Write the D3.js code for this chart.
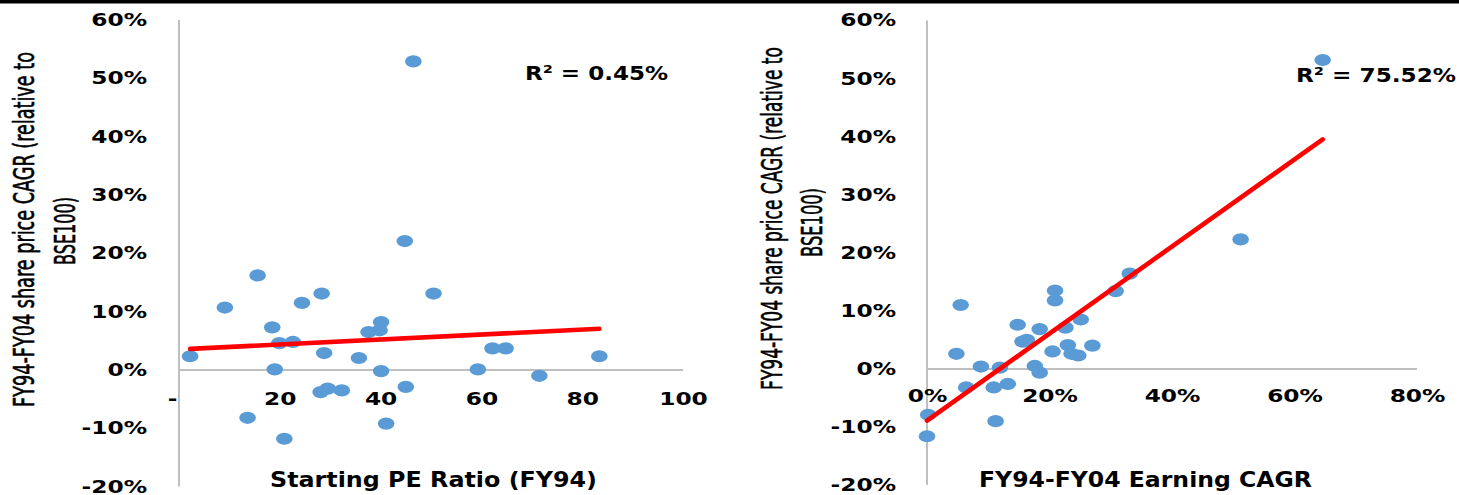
<!DOCTYPE html>
<html>
<head>
<meta charset="utf-8">
<script src="https://cdn.jsdelivr.net/npm/d3@7"></script>
<style>
  body { margin: 0; background: #fff; }
  svg { display: block; }
</style>
</head>
<body>
<div id="chart"></div>
<script>
// Left panel: starting PE vs relative share price CAGR (%)
var peRatio = [2.2, 9.1, 15.6, 18.5, 19.0, 19.9, 22.6, 24.4, 28.3, 28.8,
               28.1, 29.5, 32.3, 35.7, 37.6, 39.8, 40.1, 40.1, 41.1, 45.0,
               50.5, 13.6, 20.9, 44.8, 46.5, 59.3, 62.2, 64.8, 71.5, 83.4];
var peReturn = [2.35, 10.7, 16.2, 7.3, 0.1, 4.6, 4.8, 11.5, 13.1, 2.9,
                -3.8, -3.2, -3.5, 2.05, 6.5, 6.8, 8.2, -0.2, -9.2, -2.9,
                13.1, -8.2, -11.8, 22.1, 52.9, 0.1, 3.7, 3.7, -1.0, 2.35];

// Right panel: earnings CAGR (%) vs relative share price CAGR (%)
var earnCagr = [0, 0.2, 5.5, 4.8, 6.4, 8.8, 11.9, 10.9, 13.2, 11.2,
                14.8, 15.6, 16.3, 17.6, 18.4, 18.4, 20.5, 20.9, 20.9, 22.6,
                23.0, 23.6, 24.7, 25.1, 27.0, 30.8, 33.1, 51.2, 64.6];
var earnReturn = [-11.6, -7.9, 11.0, 2.6, -3.2, 0.4, 0.2, -3.2, -2.6, -9.0,
                  7.6, 4.7, 5.0, 0.5, -0.65, 6.85, 3.0, 13.5, 11.8, 7.1,
                  4.1, 2.6, 2.3, 8.5, 4.0, 13.4, 16.4, 22.3, 53.2];

var returnTicks = [-20, -10, 0, 10, 20, 30, 40, 50, 60];
var peTicks = [0, 20, 40, 60, 80, 100];
var earnTicks = [0, 20, 40, 60, 80];

var yTitle = ['FY94-FY04 share price CAGR (relative to', 'BSE100)'];
var peTitle = 'Starting PE Ratio (FY94)';
var earnTitle = 'FY94-FY04 Earning  CAGR';
var peR2 = 'R\u00b2 = 0.45%';
var earnR2 = 'R\u00b2 = 75.52%';

var BOLD = '"DejaVu Sans", Verdana, sans-serif';
var NARROW = '"Liberation Sans Narrow", "DejaVu Sans Condensed", "Liberation Sans", sans-serif';

// least squares line through the points
function fit(xs, ys) {
  var mx = d3.mean(xs), my = d3.mean(ys), sxy = 0, sxx = 0;
  for (var i = 0; i < xs.length; i++) {
    sxy += (xs[i] - mx) * (ys[i] - my);
    sxx += (xs[i] - mx) * (xs[i] - mx);
  }
  var b = sxy / sxx;
  return function(x) { return my + b * (x - mx); };
}

// widen text horizontally, the source picture is stretched
function stretch(sel, k) {
  sel.each(function() {
    var w = this.getComputedTextLength();
    d3.select(this).attr('textLength', w * k).attr('lengthAdjust', 'spacingAndGlyphs');
  });
}

var ScatterPanel = function(svg, opts) {
  this.svg = svg;
  this.opts = opts;
};

ScatterPanel.prototype = {
  draw: function() {
    var o = this.opts,
        g = this.svg.append('g'),
        x = d3.scaleLinear().domain([0, d3.max(o.xTicks)]).range([o.left, o.right]),
        y = d3.scaleLinear().domain([-20, 60]).range([o.bottom, o.top]),
        line = fit(o.xs, o.ys),
        idx = d3.range(o.xs.length);

    // axis lines
    g.append('line')
        .attr('x1', x(0)).attr('x2', x(0))
        .attr('y1', y(60)).attr('y2', y(-20))
        .attr('stroke', '#bfbfbf').attr('stroke-width', 2);
    g.append('line')
        .attr('x1', x(0)).attr('x2', x(d3.max(o.xTicks)))
        .attr('y1', y(0)).attr('y2', y(0))
        .attr('stroke', '#bfbfbf').attr('stroke-width', 2);

    var yAxis = g.append('g')
        .attr('transform', 'translate(' + x(0) + ',0)')
        .call(d3.axisLeft(y).tickValues(returnTicks).tickSize(0)
            .tickPadding(o.yPad).tickFormat(function(d) { return d + '%'; }));
    var xAxis = g.append('g')
        .attr('transform', 'translate(0,' + y(0) + ')')
        .call(d3.axisBottom(x).tickValues(o.xTicks).tickSize(0)
            .tickPadding(o.xPad).tickFormat(o.xFormat));

    [yAxis, xAxis].forEach(function(a) {
      a.select('.domain').remove();
      a.selectAll('.tick text')
          .attr('fill', '#000')
          .style('font-family', BOLD)
          .style('font-weight', 'bold')
          .style('font-size', '17px')
          .call(stretch, 1.37);
    });
    xAxis.selectAll('.tick text').filter(function(d) { return d === 0; })
        .attr('dx', o.zeroShift);

    g.selectAll('ellipse.dot').data(idx)
        .enter().append('ellipse')
            .attr('class', 'dot')
            .attr('cx', function(i) { return x(o.xs[i]); })
            .attr('cy', function(i) { return y(o.ys[i]); })
            .attr('rx', 8.3)
            .attr('ry', 6.1)
            .attr('fill', '#5b9bd5');

    var ext = d3.extent(o.xs);
    g.append('line')
        .attr('x1', x(ext[0])).attr('y1', y(line(ext[0])))
        .attr('x2', x(ext[1])).attr('y2', y(line(ext[1])))
        .attr('stroke', '#ff0000')
        .attr('stroke-width', 4.6)
        .attr('stroke-linecap', 'round');

    g.append('text')
        .attr('x', o.r2.x).attr('y', o.r2.y)
        .attr('textLength', o.r2.len).attr('lengthAdjust', 'spacingAndGlyphs')
        .style('font-family', BOLD).style('font-weight', 'bold').style('font-size', '20px')
        .text(o.r2.text);

    g.append('text')
        .attr('x', o.xTitle.x).attr('y', o.xTitle.y)
        .attr('textLength', o.xTitle.len).attr('lengthAdjust', 'spacingAndGlyphs')
        .style('font-family', BOLD).style('font-weight', 'bold').style('font-size', '21px')
        .text(o.xTitle.text);

    // rotated titles: squeeze along the line with a scale instead of textLength
    o.yTitle.forEach(function(t, i) {
      var txt = g.append('text')
          .attr('text-anchor', 'middle')
          .attr('fill', '#000')
          .attr('stroke', '#000')
          .attr('stroke-width', 0.6)
          .style('font-family', NARROW).style('font-size', '29px')
          .text(yTitle[i]);
      var k = t.len / txt.node().getComputedTextLength();
      txt.attr('transform', 'translate(' + t.x + ',' + t.y + ') rotate(-90) scale(' + k + ',1)');
    });
    return this;
  }
};

var svg = d3.select('#chart').append('svg')
    .attr('width', 1459)
    .attr('height', 495);

svg.append('rect')
    .attr('x', 0).attr('y', 0)
    .attr('width', 1459).attr('height', 3.5)
    .attr('fill', '#000');

new ScatterPanel(svg, {
  xs: peRatio, ys: peReturn, xTicks: peTicks,
  left: 179, right: 683, top: 20, bottom: 486.6,
  yPad: 32, xPad: 23, zeroShift: -7,
  xFormat: function(d) { return d === 0 ? '-' : d; },
  r2: {text: peR2, x: 525, y: 80, len: 143},
  xTitle: {text: peTitle, x: 270, y: 487, len: 327},
  yTitle: [{x: 34, y: 229.5, len: 355}, {x: 74.5, y: 231, len: 68}]
}).draw();

new ScatterPanel(svg, {
  xs: earnCagr, ys: earnReturn, xTicks: earnTicks,
  left: 927, right: 1417, top: 20.5, bottom: 485,
  yPad: 31, xPad: 21, zeroShift: 0,
  xFormat: function(d) { return d + '%'; },
  r2: {text: earnR2, x: 1296, y: 82, len: 160},
  xTitle: {text: earnTitle, x: 979, y: 487, len: 333},
  yTitle: [{x: 782, y: 218.5, len: 343}, {x: 822, y: 222.5, len: 69}]
}).draw();
</script>
</body>
</html>
